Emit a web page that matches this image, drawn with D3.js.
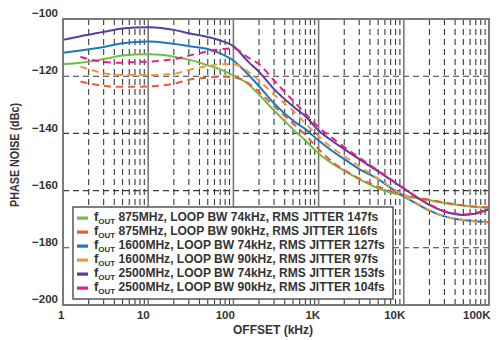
<!DOCTYPE html>
<html>
<head>
<meta charset="utf-8">
<script src="https://cdn.jsdelivr.net/npm/d3@7"></script>
<style>
  html, body { margin: 0; padding: 0; background: #fff; }
  svg { display: block; }
  text { font-family: "Liberation Sans", Arial, sans-serif; font-weight: bold; fill: #333; }
</style>
</head>
<body>
<svg id="chart" width="500" height="340"></svg>
<script>
// Offset frequencies in kHz
const offsets = [1, 1.6, 2, 3, 5, 7, 10, 15, 20, 30, 50, 70, 100, 150, 200, 300, 500, 700,
  1000, 1500, 2000, 3000, 5000, 7000, 10000, 15000, 20000, 30000, 50000, 70000, 100000];

// Phase noise in dBc for each output / loop bandwidth setting
const pn875bw74 = [-115.8, -115.3, -114.9, -114, -112.8, -112.4, -112.3, -112.6, -113.2, -114.2, -116.2, -117.6,
  -119.8, -122.8, -126.5, -132, -138.5, -142.5, -147, -150.8, -153, -156, -159.2, -160.7, -161.8, -162.8,
  -163.4, -164.3, -165.2, -165.7, -166];
const pn875bw90 = [null, -121.9, -122.5, -123.4, -123.7, -123.7, -123.6, -123.2, -122.6, -121.2, -120.5, -120.2,
  -120.4, -122.5, -125.5, -130.5, -136.5, -140.5, -145.5, -150.3, -152.8, -155.8, -158.6, -160.2, -161.5,
  -162.5, -163.2, -164.2, -165.2, -165.6, -165.8];
const pn1600bw74 = [-111.8, -111, -110.6, -109.8, -108.5, -108, -107.9, -108.2, -108.7, -109.5, -110.5, -112,
  -114.5, -119.5, -123.5, -129.5, -135.5, -138.5, -142.5, -146.5, -149, -152.5, -156, -159, -162, -165,
  -167, -169, -170.3, -170.7, -171];
const pn1600bw90 = [null, -116.7, -117.5, -119, -119.6, -119.6, -119.6, -119.4, -119.2, -117.8, -116.5, -115.8,
  -115.8, -118.5, -121.5, -126.5, -132, -136.5, -141, -145.5, -148, -151.5, -155.8, -158.8, -161.8, -164.8,
  -166.8, -169, -170.3, -170.8, -171.2];
const pn2500bw74 = [-107.3, -106, -105.5, -104.5, -103.3, -103, -102.9, -103.2, -103.8, -105, -106.3, -107.5,
  -109.5, -115, -118.5, -124.5, -130.5, -134, -139, -143, -145.5, -149, -153.3, -156.2, -159.3, -162.8,
  -165, -167.3, -168.5, -168, -166.5];
const pn2500bw90 = [null, -113.2, -114, -115, -115.3, -115, -114.9, -114.5, -114, -112.8, -111.3, -110.6,
  -110.3, -113.5, -115.8, -121.5, -128.5, -133, -137.8, -142, -144.8, -148.5, -153, -156, -159.2, -162.6,
  -164.8, -167.2, -168.3, -167.8, -166.3];

const fout = ["875MHz", "875MHz", "1600MHz", "1600MHz", "2500MHz", "2500MHz"];
const loopBw = ["74kHz", "90kHz", "74kHz", "90kHz", "74kHz", "90kHz"];
const rmsJitter = ["147fs", "116fs", "127fs", "97fs", "153fs", "104fs"];
const colors = ["#72bd44", "#f1592f", "#1f78bd", "#f7943a", "#5d3b9c", "#ec1a8e"];
const dashed = [false, true, false, true, false, true];
const seriesValues = [pn875bw74, pn875bw90, pn1600bw74, pn1600bw90, pn2500bw74, pn2500bw90];

const yTicks = [-100, -120, -140, -160, -180, -200];
const xTicks = [1, 10, 100, 1000, 10000, 100000];
const xTickLabels = ["1", "10", "100", "1K", "10K", "100K"];

const svg = d3.select("#chart");
const plotLeft = 63, plotRight = 489, plotTop = 19, plotBottom = 305;

const x = d3.scaleLog().domain([1, 100000]).range([plotLeft, plotRight]);
const y = d3.scaleLinear().domain([-200, -100]).range([plotBottom, plotTop]);

// Grid: minor verticals (2..9 in each decade), dashed
const grid = svg.append("g");
const minor = x.ticks().filter(d => Math.abs(Math.log10(d) - Math.round(Math.log10(d))) > 1e-6);
grid.selectAll("line.minor").data(minor).join("line")
  .attr("x1", d => x(d)).attr("x2", d => x(d))
  .attr("y1", plotTop).attr("y2", plotBottom)
  .attr("stroke", "#3a3a3a").attr("stroke-width", 1.1).attr("stroke-dasharray", "6,4");

// Horizontal dashed gridlines
grid.selectAll("line.h").data(yTicks.filter(d => d > -200 && d < -100)).join("line")
  .attr("x1", plotLeft).attr("x2", plotRight)
  .attr("y1", d => y(d)).attr("y2", d => y(d))
  .attr("stroke", "#3a3a3a").attr("stroke-width", 1.1).attr("stroke-dasharray", "6,4");

// Decade lines, solid
grid.selectAll("line.major").data(xTicks.slice(1, -1)).join("line")
  .attr("x1", d => x(d)).attr("x2", d => x(d))
  .attr("y1", plotTop).attr("y2", plotBottom)
  .attr("stroke", "#7a7a7a").attr("stroke-width", 1.6);

// Curves
const line = d3.line()
  .defined(d => d[1] !== null)
  .x(d => x(d[0])).y(d => y(d[1]))
  .curve(d3.curveMonotoneX);

const curves = svg.append("g");
seriesValues.forEach((vals, i) => {
  curves.append("path")
    .attr("d", line(offsets.map((f, j) => [f, vals[j]])))
    .attr("fill", "none")
    .attr("stroke", colors[i])
    .attr("stroke-width", 2)
    .attr("stroke-dasharray", dashed[i] ? "7,5" : null)
    .attr("stroke-linejoin", "round");
});

// Plot frame
svg.append("rect")
  .attr("x", plotLeft).attr("y", plotTop)
  .attr("width", plotRight - plotLeft).attr("height", plotBottom - plotTop)
  .attr("fill", "none").attr("stroke", "#7a7a7a").attr("stroke-width", 2);

// Y axis labels, sitting slightly above their gridlines
const yAxis = svg.append("g")
  .attr("transform", `translate(${plotLeft},0)`)
  .call(d3.axisLeft(y).tickValues(yTicks).tickSize(0).tickPadding(5).tickFormat(d3.format("d")));
yAxis.select(".domain").remove();
yAxis.selectAll("text")
  .attr("dy", "-0.2em")
  .style("font-family", '"Liberation Sans", Arial, sans-serif')
  .style("font-weight", "bold").style("font-size", "11.5px").style("fill", "#333");

// X axis labels, right-aligned on each decade line
const xAxis = svg.append("g")
  .attr("transform", `translate(0,${plotBottom})`)
  .call(d3.axisBottom(x).tickValues(xTicks).tickSize(0).tickPadding(6).tickFormat((d, i) => xTickLabels[i]));
xAxis.select(".domain").remove();
xAxis.selectAll("text")
  .attr("text-anchor", "end").attr("x", 1)
  .style("font-family", '"Liberation Sans", Arial, sans-serif')
  .style("font-weight", "bold").style("font-size", "11.5px").style("fill", "#333");

// Axis titles
svg.append("text")
  .attr("x", 273).attr("y", 334)
  .attr("text-anchor", "middle")
  .style("font-size", "12px")
  .text("OFFSET (kHz)");

svg.append("text")
  .attr("transform", "translate(19,155) rotate(-90)")
  .attr("text-anchor", "middle")
  .attr("textLength", 104).attr("lengthAdjust", "spacingAndGlyphs")
  .style("font-size", "13px")
  .text("PHASE NOISE (dBc)");

// Legend
const legend = svg.append("g");
legend.append("rect")
  .attr("x", 73).attr("y", 207).attr("width", 320).attr("height", 92)
  .attr("fill", "#fff").attr("stroke", "#555").attr("stroke-width", 1.5);

const rowY = d3.scaleBand().domain(d3.range(6)).range([211, 295]);
fout.forEach((f, i) => {
  const cy = rowY(i) + rowY.bandwidth() / 2;
  legend.append("rect")
    .attr("x", 77).attr("y", cy - 1.5).attr("width", 11).attr("height", 3.2)
    .attr("fill", colors[i]);
  const t = legend.append("text").attr("x", 94).attr("y", cy + 3);
  t.append("tspan").style("font-size", "13px").text("f");
  t.append("tspan").attr("dy", 3).style("font-size", "8px").text("OUT");
  t.append("tspan").attr("dy", -3).style("font-size", "12.05px")
    .text(` ${f}, LOOP BW ${loopBw[i]}, RMS JITTER ${rmsJitter[i]}`);
});
</script>
</body>
</html>
